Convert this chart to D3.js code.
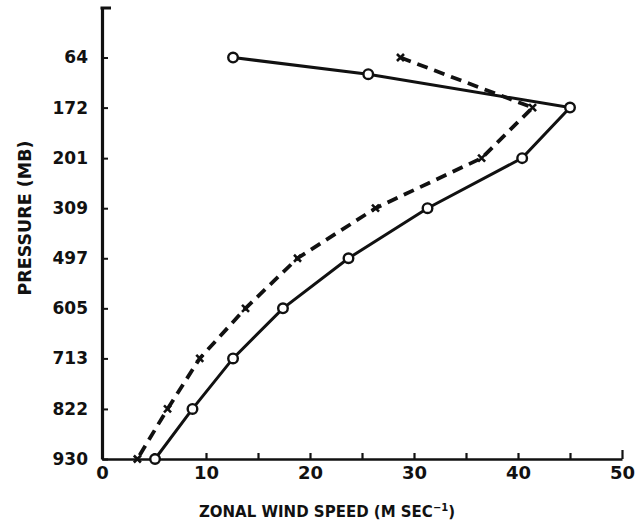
<!DOCTYPE html>
<html>
<head>
<meta charset="utf-8">
<script src="https://cdn.jsdelivr.net/npm/d3@7"></script>
<style>
  html, body { margin: 0; padding: 0; background: #fff; }
  svg { display: block; }
  text { font-family: "DejaVu Sans", sans-serif; font-weight: bold; fill: #111; }
</style>
</head>
<body>
<svg id="chart" width="635" height="522"></svg>
<script>
// ---- data ----
const pressureTicks = [64, 172, 281, 389, 497, 605, 713, 822, 930];
const pressureTickLabels = ["64", "172", "201", "309", "497", "605", "713", "822", "930"];
const speedTicks = [0, 5, 10, 15, 20, 25, 30, 35, 40, 45, 50];
const speedTickLabels = ["0", "", "10", "", "20", "", "30", "", "40", "", "50"];

// solid line with open circles
const solidPressure = [64, 100, 172, 281, 389, 497, 605, 713, 822, 930];
const solidSpeed    = [12.6, 25.6, 45.0, 40.4, 31.3, 23.7, 17.4, 12.6, 8.7, 5.1];
// dashed line with x markers
const dashedPressure = [64, 172, 281, 389, 497, 605, 713, 822, 930];
const dashedSpeed    = [28.7, 41.4, 36.5, 26.3, 18.8, 13.8, 9.4, 6.3, 3.4];

const xTitle = "ZONAL WIND SPEED (M SEC";
const yTitle = "PRESSURE (MB)";

// ---- drawing ----
const svg = d3.select("#chart");
const ink = "#111";

const x = d3.scaleLinear().domain([0, 50]).range([102, 622]);
const y = d3.scaleLinear().domain([-45, 930]).range([7, 459]);

// y axis
const yAxis = d3.axisLeft(y)
  .tickValues(pressureTicks)
  .tickFormat((d, i) => pressureTickLabels[i])
  .tickSizeInner(-6).tickSizeOuter(0).tickPadding(14);
const gy = svg.append("g").attr("transform", `translate(${x(0)},0)`).call(yAxis);
gy.select(".domain").attr("stroke", ink).attr("stroke-width", 3.2);
gy.selectAll(".tick line").attr("stroke", ink).attr("stroke-width", 2);
gy.selectAll(".tick text").attr("font-size", 17).attr("fill", ink);
// serif at the top of the y axis
svg.append("line")
  .attr("x1", x(0) - 1.5).attr("x2", x(0) + 9)
  .attr("y1", y.range()[0] + 1).attr("y2", y.range()[0] + 1)
  .attr("stroke", ink).attr("stroke-width", 3);

// x axis
const xAxis = d3.axisBottom(x)
  .tickValues(speedTicks)
  .tickFormat((d, i) => speedTickLabels[i])
  .tickSizeInner(-6).tickSizeOuter(0).tickPadding(7);
const gx = svg.append("g").attr("transform", `translate(0,${y(930)})`).call(xAxis);
gx.select(".domain").attr("stroke", ink).attr("stroke-width", 2.6);
gx.selectAll(".tick line").attr("stroke", ink).attr("stroke-width", 2.2);
gx.selectAll(".tick text").attr("font-size", 18).attr("fill", ink);
gx.selectAll(".tick").filter(d => d === 0).select("line").remove();
gx.selectAll(".tick").filter(d => d === 50).select("line").attr("y2", -9);

// axis titles
const xt = svg.append("text")
  .attr("x", 327).attr("y", 517)
  .attr("text-anchor", "middle")
  .attr("font-size", 15);
xt.append("tspan").text(xTitle);
xt.append("tspan").attr("dy", -6).attr("font-size", 10).text("−1");
xt.append("tspan").attr("dy", 6).text(")");

svg.append("text")
  .attr("transform", `translate(31,${218}) rotate(-90)`)
  .attr("text-anchor", "middle")
  .attr("font-size", 17.5)
  .text(yTitle);

// lines
const solidData = solidPressure.map((p, i) => ({p, v: solidSpeed[i]}));
const dashedData = dashedPressure.map((p, i) => ({p, v: dashedSpeed[i]}));
const line = d3.line().x(d => x(d.v)).y(d => y(d.p));

svg.append("path").datum(dashedData)
  .attr("d", line).attr("fill", "none")
  .attr("stroke", ink).attr("stroke-width", 3.8)
  .attr("stroke-dasharray", "11,7");

svg.append("path").datum(solidData)
  .attr("d", line).attr("fill", "none")
  .attr("stroke", ink).attr("stroke-width", 3);

// x markers
svg.append("g").selectAll("path").data(dashedData).join("path")
  .attr("transform", d => `translate(${x(d.v)},${y(d.p)})`)
  .attr("d", "M-3.5,-3.5L3.5,3.5M3.5,-3.5L-3.5,3.5")
  .attr("stroke", ink).attr("stroke-width", 2.6).attr("fill", "none");

// circle markers
svg.append("g").selectAll("circle").data(solidData).join("circle")
  .attr("cx", d => x(d.v)).attr("cy", d => y(d.p))
  .attr("r", 4.8)
  .attr("fill", "#fff").attr("stroke", ink).attr("stroke-width", 2.4);
</script>
</body>
</html>
